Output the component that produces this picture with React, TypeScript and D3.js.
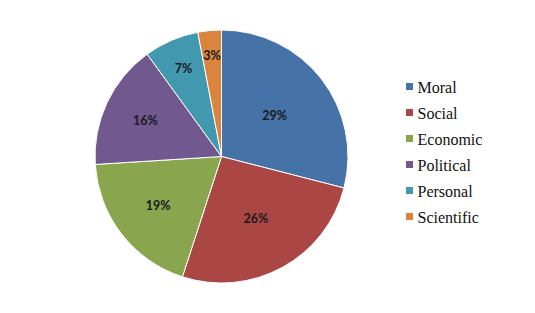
import React from "react";
import * as d3 from "d3";

const categories = ["Moral", "Social", "Economic", "Political", "Personal", "Scientific"];
const values = [29, 26, 19, 16, 7, 3];
const colors = ["#4572A7", "#AA4643", "#89A54E", "#71588F", "#4198AF", "#DB843D"];

export default function App() {
  const W = 535, H = 313;
  const cx = 221.5, cy = 156.5, r = 126.5;
  const pie = d3.pie<number>().sort(null).value((d) => d);
  const arcs = pie(values);
  const arc = d3.arc<d3.PieArcDatum<number>>().innerRadius(0).outerRadius(r);
  const total = d3.sum(values);
  const legendY = d3.scaleLinear().domain([0, 1]).range([87, 113]);
  return (
    <svg width={W} height={H} style={{ position: "absolute", left: 0, top: 0, background: "#fff" }}>
      <g transform={`translate(${cx},${cy})`}>
        {arcs.map((a, i) => (
          <path key={i} d={arc(a) || ""} fill={colors[i]} stroke="#fff" strokeWidth={1} />
        ))}
        {arcs.map((a, i) => {
          const f = values[i] / total;
          const lr = 105 - 130 * f;
          const mid = (a.startAngle + a.endAngle) / 2;
          const x = Math.sin(mid) * lr;
          const y = -Math.cos(mid) * lr;
          return (
            <text key={i} x={x} y={y} textAnchor="middle" dominantBaseline="central"
              fontFamily="Lato, 'Liberation Sans', sans-serif" fontWeight="bold" fontSize={12.5} fill="#1a1a1a">
              {`${values[i]}%`}
            </text>
          );
        })}
      </g>
      <g>
        {categories.map((c, i) => (
          <g key={c} transform={`translate(406,${legendY(i)})`}>
            <rect x={0} y={-4} width={7} height={7} fill={colors[i]} />
            <text x={11.5} y={0.5} dominantBaseline="central" fontFamily="'Liberation Serif', serif" fontSize={16} fill="#111">
              {c}
            </text>
          </g>
        ))}
      </g>
    </svg>
  );
}
